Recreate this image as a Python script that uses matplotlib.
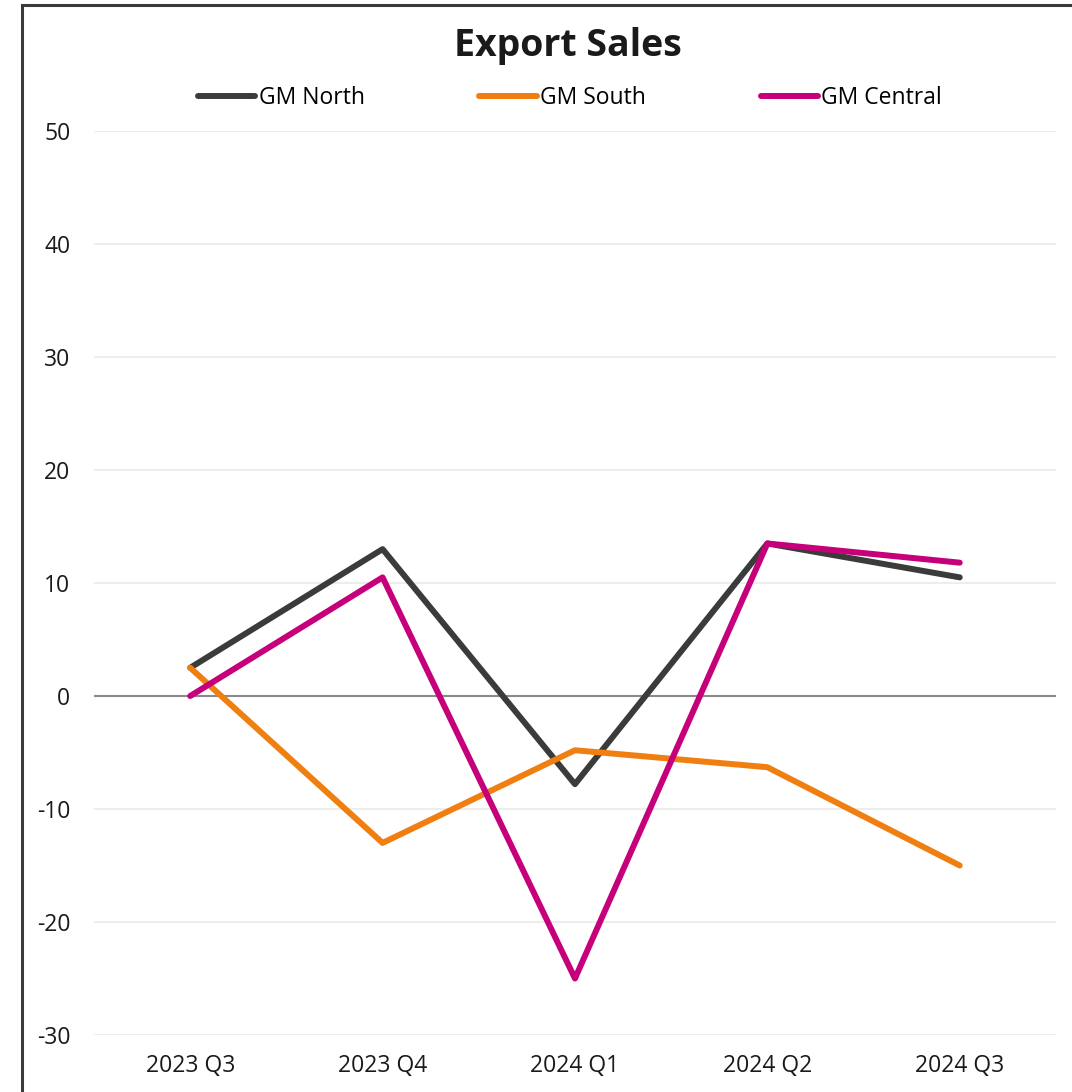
# export_sales.py
# Quarterly export sales balance for the three GM regions

import matplotlib
matplotlib.use('Agg')
import matplotlib.pyplot as plt
from matplotlib.patches import Rectangle

# quarters on the x axis
quarters = ['2023 Q3', '2023 Q4', '2024 Q1', '2024 Q2', '2024 Q3']

# series values per region
gm_north = [2.5, 13.0, -7.8, 13.5, 10.5]
gm_south = [2.5, -13.0, -4.8, -6.3, -15.0]
gm_central = [0.0, 10.5, -25.0, 13.5, 11.8]

# y ticks shown on the axis
y_ticks = [-30, -20, -10, 0, 10, 20, 30, 40, 50]

plt.rcParams['font.family'] = ['Open Sans', 'DejaVu Sans']
plt.rcParams['axes.unicode_minus'] = False

fig = plt.figure(figsize=(10.72, 10.92), dpi=100)
ax = fig.add_axes([0.0877, 0.0522, 0.8973, 0.8278])

x = list(range(len(quarters)))
ax.plot(x, gm_north, color='#3a3c3a', lw=4.3, label='GM North', solid_capstyle='round', zorder=3)
ax.plot(x, gm_south, color='#f07f12', lw=4.3, label='GM South', solid_capstyle='round', zorder=4)
ax.plot(x, gm_central, color='#c6007b', lw=4.3, label='GM Central', solid_capstyle='round', zorder=5)

ax.set_xlim(-0.5, len(quarters) - 0.5)
ax.set_ylim(-30, 50)
ax.set_xticks(x)
ax.set_xticklabels(quarters)
ax.set_yticks(y_ticks)

# light grid, darker zero line
for v in y_ticks:
    if v == 0:
        ax.axhline(v, color='#8a8a8a', lw=1.5, zorder=2)
    else:
        ax.axhline(v, color='#ececec', lw=1.3, zorder=1)

for s in ax.spines.values():
    s.set_visible(False)
ax.tick_params(axis='both', length=0, labelsize=16.5, colors='#1a1a1a')
ax.tick_params(axis='y', pad=17)
ax.tick_params(axis='x', pad=14)

fig.text(0.530, 0.958, 'Export Sales', ha='center', va='center',
         fontsize=27, fontweight='bold', color='#1a1a1a')

ax.legend(loc='center', bbox_to_anchor=(0.495, 1.037), ncol=3, frameon=False,
          fontsize=16.5, handlelength=2.5, handletextpad=0.15, columnspacing=5.0)

# outer frame along the left and top edges
fig.patches.append(Rectangle((22 / 1072, -0.1), 1.2, 1.1 - 5 / 1092,
                             transform=fig.transFigure, fill=False,
                             edgecolor='#3a3a3a', lw=2.2))

fig.savefig('out.png', dpi=100)
